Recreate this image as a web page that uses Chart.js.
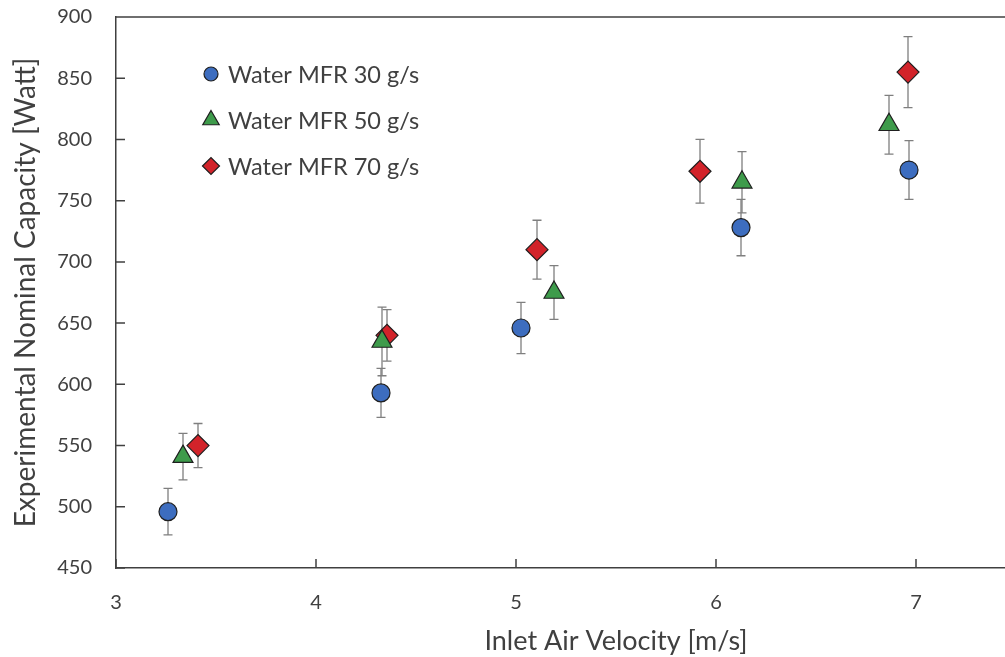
<!DOCTYPE html>
<html>
<head>
<meta charset="utf-8">
<script src="https://cdn.jsdelivr.net/npm/chart.js@4.4.1/dist/chart.umd.min.js"></script>
<style>
  html, body { margin: 0; background: #fff; overflow: hidden; }
  /* the plot runs on past the right edge of the picture, as in the reference */
  #wrap { width: 1005px; height: 657px; overflow: hidden; }
</style>
</head>
<body>
<div id="wrap"><canvas id="capacityChart" width="1116" height="657"></canvas></div>
<script>
// values
const seriesNames = ['Water MFR 30 g/s', 'Water MFR 50 g/s', 'Water MFR 70 g/s'];

const velocity30 = [3.26, 4.325, 5.025, 6.125, 6.965];
const capacity30 = [496, 593, 646, 728, 775];
const error30 = [19, 20, 21, 23, 24];

const velocity50 = [3.335, 4.33, 5.19, 6.13, 6.865];
const capacity50 = [541, 635, 675, 765, 812];
const error50 = [19, 28, 22, 25, 24];

const velocity70 = [3.41, 4.355, 5.105, 5.92, 6.96];
const capacity70 = [550, 640, 710, 774, 855];
const error70 = [18, 21, 24, 26, 29];

const xTicks = [3, 4, 5, 6, 7, 8];
const yTicks = [450, 500, 550, 600, 650, 700, 750, 800, 850, 900];

const FONT = 'Lato';
const TEXT = '#404040';
const AXIS = '#404040';

function toPoints(xs, ys) {
    return xs.map((v, i) => ({ x: v, y: ys[i] }));
}

// Vertical error bars with caps
const errorBars = {
    id: 'errorBars',
    beforeDatasetsDraw(chart) {
        const { ctx, scales: { x, y } } = chart;
        ctx.save();
        ctx.strokeStyle = '#7f7f7f';
        ctx.lineWidth = 1.3;
        chart.data.datasets.forEach(ds => {
            ds.data.forEach((p, i) => {
                const px = x.getPixelForValue(p.x);
                const top = y.getPixelForValue(p.y + ds.errors[i]);
                const bot = y.getPixelForValue(p.y - ds.errors[i]);
                ctx.beginPath();
                ctx.moveTo(px, top); ctx.lineTo(px, bot);
                ctx.moveTo(px - 4.5, top); ctx.lineTo(px + 4.5, top);
                ctx.moveTo(px - 4.5, bot); ctx.lineTo(px + 4.5, bot);
                ctx.stroke();
            });
        });
        ctx.restore();
    }
};

// Inward tick marks and the top frame line
const frame = {
    id: 'frame',
    afterDraw(chart) {
        const { ctx, chartArea: a, scales: { x, y } } = chart;
        ctx.save();
        ctx.strokeStyle = AXIS;
        ctx.lineWidth = 1.5;
        ctx.beginPath();
        ctx.moveTo(a.left, a.top); ctx.lineTo(a.right, a.top);
        yTicks.forEach(v => {
            const py = y.getPixelForValue(v);
            ctx.moveTo(a.left, py); ctx.lineTo(a.left + 9, py);
        });
        xTicks.forEach(v => {
            const px = x.getPixelForValue(v);
            ctx.moveTo(px, a.bottom); ctx.lineTo(px, a.bottom - 9);
        });
        ctx.stroke();
        ctx.restore();
    }
};

// Legend inside the plot, top left
const innerLegend = {
    id: 'innerLegend',
    afterDraw(chart) {
        const { ctx, chartArea: a } = chart;
        const sizes = [7, 9.5, 8.5];
        ctx.save();
        chart.data.datasets.forEach((ds, i) => {
            const mx = a.left + 95;
            const my = a.top + 57 + i * 46;
            ctx.fillStyle = ds.backgroundColor;
            ctx.strokeStyle = ds.borderColor;
            ctx.lineWidth = 1.2;
            Chart.helpers.drawPoint(ctx, { pointStyle: ds.pointStyle, radius: sizes[i], borderWidth: 1.2, rotation: 0 }, mx, my);
            ctx.fillStyle = TEXT;
            ctx.font = '23.5px ' + FONT;
            ctx.textBaseline = 'middle';
            ctx.textAlign = 'left';
            ctx.fillText(ds.label, mx + 17, my + 1);
        });
        ctx.restore();
    }
};

document.addEventListener("DOMContentLoaded", function() {
    const ctx = document.getElementById('capacityChart').getContext('2d');
    new Chart(ctx, {
        type: 'scatter',
        data: {
            datasets: [{
                label: seriesNames[0],
                data: toPoints(velocity30, capacity30),
                errors: error30,
                pointStyle: 'circle',
                pointRadius: 9,
                backgroundColor: '#3d6dbf',
                borderColor: '#1f1f1f',
                borderWidth: 1.2
            }, {
                label: seriesNames[1],
                data: toPoints(velocity50, capacity50),
                errors: error50,
                pointStyle: 'triangle',
                pointRadius: 11.5,
                backgroundColor: '#3e9b4b',
                borderColor: '#1f1f1f',
                borderWidth: 1.2
            }, {
                label: seriesNames[2],
                data: toPoints(velocity70, capacity70),
                errors: error70,
                pointStyle: 'rectRot',
                pointRadius: 11,
                backgroundColor: '#d2232a',
                borderColor: '#1f1f1f',
                borderWidth: 1.2
            }]
        },
        options: {
            responsive: false,
            animation: false,
            layout: { autoPadding: false, padding: { top: 17, right: 0, left: 0, bottom: 0 } },
            plugins: {
                legend: { display: false },
                tooltip: { enabled: false }
            },
            scales: {
                x: {
                    type: 'linear',
                    min: 3,
                    max: 8,
                    afterFit: s => { s.height = 89; s.paddingLeft = 0; s.paddingRight = 0; },
                    border: { display: true, color: AXIS, width: 1.5 },
                    grid: { display: true, drawOnChartArea: false, drawTicks: false },
                    ticks: {
                        stepSize: 1,
                        padding: 23,
                        color: TEXT,
                        font: { family: FONT, size: 20 }
                    },
                    title: {
                        display: true,
                        text: 'Inlet Air Velocity [m/s]',
                        color: TEXT,
                        font: { family: FONT, size: 27 },
                        padding: { top: 0, bottom: 0 }
                    }
                },
                y: {
                    min: 450,
                    max: 900,
                    afterFit: s => { s.width = 116; s.paddingTop = 0; s.paddingBottom = 0; },
                    border: { display: true, color: AXIS, width: 1.5 },
                    grid: { display: true, drawOnChartArea: false, drawTicks: false },
                    ticks: {
                        stepSize: 50,
                        padding: 24,
                        color: TEXT,
                        font: { family: FONT, size: 20 }
                    },
                    title: {
                        display: true,
                        text: 'Experimental Nominal Capacity [Watt]',
                        color: TEXT,
                        font: { family: FONT, size: 28 },
                        padding: { top: 9, bottom: 0 }
                    }
                }
            }
        },
        plugins: [errorBars, frame, innerLegend]
    });
});
</script>
</body>
</html>
